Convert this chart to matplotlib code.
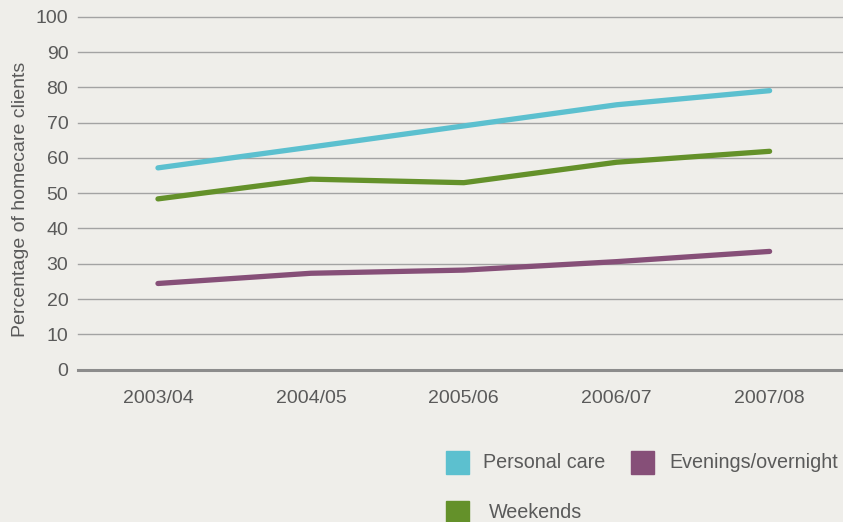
import matplotlib.pyplot as plt
from matplotlib.patches import Rectangle

years = ['2003/04', '2004/05', '2005/06', '2006/07', '2007/08']
personal_care = [57.2, 63.1, 69.1, 75.1, 79.1]
weekends = [48.4, 54.0, 53.0, 58.8, 61.9]
evenings = [24.4, 27.3, 28.2, 30.6, 33.5]

bg = '#efeeea'
txt = '#5a5a5a'
c_personal = '#5cc0cf'
c_evening = '#864f78'
c_weekend = '#64912a'

plt.rcParams['font.family'] = ['Liberation Sans', 'DejaVu Sans']

fig = plt.figure(figsize=(8.43, 5.22), dpi=100, facecolor=bg)
ax = fig.add_axes([78 / 843, 1 - 369.5 / 522, 1 - 78 / 843, 352.5 / 522])
ax.set_facecolor(bg)

x = range(len(years))
for vals, col in [(personal_care, c_personal), (weekends, c_weekend), (evenings, c_evening)]:
    ax.plot(x, vals, color=col, lw=3.8, solid_capstyle='round', solid_joinstyle='round', zorder=3)

ax.set_xlim(-0.523, 4.48)
ax.set_ylim(0, 100)
ax.set_yticks(range(0, 101, 10))
ax.set_xticks(list(x))
ax.set_xticklabels(years)
ax.grid(axis='y', color='#a3a3a3', lw=1.0)
ax.axhline(0, color='#8c8c8c', lw=2.2, clip_on=False, zorder=2)
for s in ax.spines.values():
    s.set_visible(False)
ax.tick_params(axis='both', length=0, colors=txt, labelsize=14)
ax.tick_params(axis='y', pad=7)
ax.tick_params(axis='x', pad=15)
for gl in ax.get_ygridlines():
    gl.set_clip_on(False)
ax.set_ylabel('Percentage of homecare clients', color=txt, fontsize=14)
ax.yaxis.set_label_coords(-0.064, 0.482)

# legend
legend_items = [
    ('Personal care', c_personal, 446, 451, 483),
    ('Evenings/overnight', c_evening, 631, 451, 669),
    ('Weekends', c_weekend, 446, 501, 489),
]
for label, col, px, py, tx in legend_items:
    fig.add_artist(Rectangle((px / 843, 1 - (py + 23) / 522), 23 / 843, 23 / 522,
                             transform=fig.transFigure, color=col))
    fig.text(tx / 843, 1 - (py + 12) / 522, label, color=txt, fontsize=14.2, va='center', ha='left')

fig.savefig('out.png', dpi=100, facecolor=bg)
